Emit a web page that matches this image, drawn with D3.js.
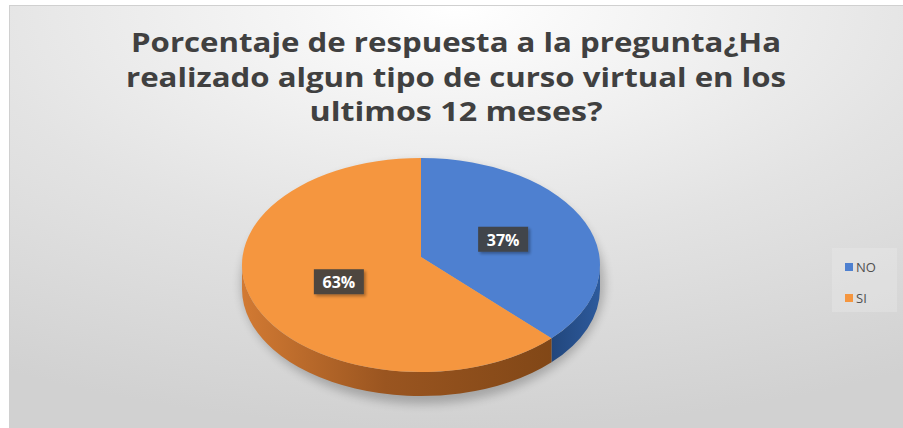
<!DOCTYPE html>
<html lang="es">
<head>
<meta charset="UTF-8">
<title>Curso virtual en los ultimos 12 meses</title>
<script src="https://d3js.org/d3.v7.min.js"></script>
<style>
  body, html { margin: 0; padding: 0; background: #fff; }
  svg { display: block; font-family: "Open Sans", "DejaVu Sans", sans-serif; }
  .title { fill: #404040; font-size: 27px; font-weight: 700; text-anchor: middle; }
  .label { fill: #fff; font-size: 16px; font-weight: 700; text-anchor: middle; }
  .legend-text { fill: #505050; font-size: 13px; }
</style>
</head>
<body>
<svg id="chart" width="903" height="428"></svg>
<script>
// data
const categories = ["NO", "SI"];
const values = [37, 63];
const titleLines = [
  "Porcentaje de respuesta a la pregunta¿Ha",
  "realizado algun tipo de curso virtual en los",
  "ultimos 12 meses?"
];
// measured widths of the title lines in the reference
const titleWidths = [650, 660, 293];

const width = 903, height = 428;
const svg = d3.select("#chart");
const defs = svg.append("defs");

// background gradient
const bg = defs.append("radialGradient").attr("id", "bg")
  .attr("cx", "50%").attr("cy", "0%").attr("r", "100%")
  .attr("fx", "50%").attr("fy", "0%");
bg.append("stop").attr("offset", "0%").attr("stop-color", "#ffffff");
bg.append("stop").attr("offset", "55%").attr("stop-color", "#e3e3e3");
bg.append("stop").attr("offset", "100%").attr("stop-color", "#d1d1d1");

svg.append("rect")
  .attr("x", 9.5).attr("y", 5.5)
  .attr("width", width - 9).attr("height", height - 5)
  .attr("fill", "url(#bg)")
  .attr("stroke", "#d0d0d0");

// title
svg.append("g").selectAll("text")
  .data(titleLines)
  .join("text")
  .attr("class", "title")
  .attr("x", 456)
  .attr("y", (d, i) => 52 + i * 34.5)
  .attr("textLength", (d, i) => titleWidths[i])
  .attr("lengthAdjust", "spacingAndGlyphs")
  .text(d => d);

// pie geometry (flattened 3d look)
const cx = 421, cy = 265, rx = 179, ry = 107, depth = 24;
const apex = [421, 257];

const color = d3.scaleOrdinal().domain(categories).range(["#4e80d0", "#f5963f"]);
const sideFill = d3.scaleOrdinal().domain(categories).range(["url(#sideBlue)", "url(#sideOrange)"]);

const gOr = defs.append("linearGradient").attr("id", "sideOrange")
  .attr("gradientUnits", "userSpaceOnUse")
  .attr("x1", cx - rx).attr("x2", cx + rx).attr("y1", 0).attr("y2", 0);
gOr.append("stop").attr("offset", "0%").attr("stop-color", "#d27a33");
gOr.append("stop").attr("offset", "40%").attr("stop-color", "#9a5520");
gOr.append("stop").attr("offset", "100%").attr("stop-color", "#7a4314");

const gBl = defs.append("linearGradient").attr("id", "sideBlue")
  .attr("gradientUnits", "userSpaceOnUse")
  .attr("x1", cx + rx - 60).attr("x2", cx + rx).attr("y1", 0).attr("y2", 0);
gBl.append("stop").attr("offset", "0%").attr("stop-color", "#1f4275");
gBl.append("stop").attr("offset", "100%").attr("stop-color", "#2d5a9c");

const blur = defs.append("filter").attr("id", "blur")
  .attr("x", "-20%").attr("y", "-20%").attr("width", "140%").attr("height", "140%");
blur.append("feGaussianBlur").attr("stdDeviation", 5);

const boxShadow = defs.append("filter").attr("id", "boxShadow")
  .attr("x", "-30%").attr("y", "-30%").attr("width", "160%").attr("height", "160%");
boxShadow.append("feDropShadow").attr("dx", 2).attr("dy", 2)
  .attr("stdDeviation", 1.5).attr("flood-color", "#000").attr("flood-opacity", 0.35);

const rim = (a, dy = 0) => [cx + rx * Math.sin(a), cy - ry * Math.cos(a) + dy];

const pie = d3.pie().sort(null).value(d => d.value);
const arcs = pie(categories.map((c, i) => ({ cat: c, value: values[i] })));

const pieG = svg.append("g");

// soft shadow under the pie
pieG.append("ellipse")
  .attr("cx", cx + 2).attr("cy", cy + depth / 2 + 6)
  .attr("rx", rx + 3).attr("ry", ry + depth / 2 + 2)
  .attr("fill", "#000").attr("opacity", 0.22)
  .attr("filter", "url(#blur)");

// side walls (front half only)
pieG.selectAll(".side")
  .data(arcs)
  .join("path")
  .attr("class", "side")
  .attr("fill", d => sideFill(d.data.cat))
  .attr("d", d => {
    const s = Math.max(d.startAngle, Math.PI / 2);
    const e = Math.min(d.endAngle, 3 * Math.PI / 2);
    if (s >= e) return null;
    const p0 = rim(s), p1 = rim(e), p2 = rim(e, depth), p3 = rim(s, depth);
    return `M${p0}A${rx},${ry} 0 0 1 ${p1}L${p2}A${rx},${ry} 0 0 0 ${p3}Z`;
  });

// top faces
pieG.selectAll(".top")
  .data(arcs)
  .join("path")
  .attr("class", "top")
  .attr("fill", d => color(d.data.cat))
  .attr("d", d => {
    const large = d.endAngle - d.startAngle > Math.PI ? 1 : 0;
    return `M${apex}L${rim(d.startAngle)}A${rx},${ry} 0 ${large} 1 ${rim(d.endAngle)}Z`;
  });

// data labels
const labelPos = d => {
  const a = (d.startAngle + d.endAngle) / 2;
  return [apex[0] + 0.5 * rx * Math.sin(a), apex[1] - 0.5 * ry * Math.cos(a) + 4];
};
const lab = pieG.selectAll(".lab")
  .data(arcs)
  .join("g")
  .attr("class", "lab")
  .attr("transform", d => `translate(${labelPos(d)})`);
lab.append("rect")
  .attr("x", -25).attr("y", -13).attr("width", 50).attr("height", 25)
  .attr("fill", "#404040").attr("opacity", 0.92)
  .attr("filter", "url(#boxShadow)");
lab.append("text")
  .attr("class", "label")
  .attr("y", 6)
  .text(d => d.data.value + "%");

// legend
const legend = svg.append("g");
legend.append("rect")
  .attr("x", 832).attr("y", 248).attr("width", 65).attr("height", 64)
  .attr("fill", "#eeeeee").attr("opacity", 0.3);
const li = legend.selectAll(".li")
  .data(categories)
  .join("g")
  .attr("class", "li")
  .attr("transform", (d, i) => `translate(845,${263 + i * 31})`);
li.append("rect")
  .attr("width", 8).attr("height", 8)
  .attr("fill", d => color(d));
li.append("text")
  .attr("class", "legend-text")
  .attr("x", 11).attr("y", 9)
  .text(d => d);
</script>
</body>
</html>
